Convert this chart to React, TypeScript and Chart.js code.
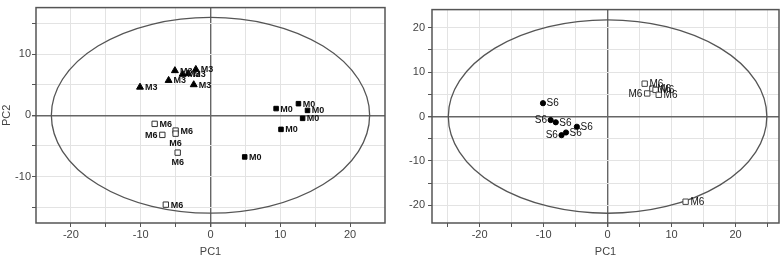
import React, { useEffect, useRef } from 'react';
import { Chart, registerables } from 'chart.js';
Chart.register(...registerables);

// ---------- Left panel data ----------
const leftM3X = [-10.1, -6.0, -5.1, -4.0, -3.2, -2.1, -2.4];
const leftM3Y = [4.6, 5.7, 7.3, 6.7, 6.8, 7.5, 5.0];
const leftM3Pos = ['r', 'r', 'r', 'r', 'r', 'r', 'r'];
const leftM0X = [9.4, 12.6, 13.9, 13.2, 10.1, 4.9];
const leftM0Y = [1.1, 1.9, 0.8, -0.5, -2.3, -6.8];
const leftM0Pos = ['r', 'r', 'r', 'r', 'r', 'r'];
const leftM6X = [-8.0, -6.9, -5.0, -5.0, -4.7, -6.4];
const leftM6Y = [-1.4, -3.2, -2.5, -3.0, -6.1, -14.6];
const leftM6Pos = ['r', 'l', 'r', 'b', 'b', 'r'];

// ---------- Right panel data ----------
const rightS6X = [-10.1, -8.9, -8.1, -4.8, -7.2, -6.5];
const rightS6Y = [3.0, -0.8, -1.3, -2.3, -4.2, -3.6];
const rightS6Pos = ['r', 'l', 'r', 'r', 'l', 'r'];
const rightM6X = [5.8, 6.2, 7.0, 7.5, 8.0, 12.2];
const rightM6Y = [7.4, 5.2, 6.3, 6.0, 4.9, -19.2];
const rightM6Pos = ['r', 'l', 'r', 'r', 'r', 'r'];

// axis ranges / ticks
const leftXRange = [-25, 25];
const leftYRange = [-17.6, 17.6];
const leftXTicks = [-20, -15, -10, -5, 0, 5, 10, 15, 20];
const leftYTicks = [-15, -10, -5, 0, 5, 10, 15];
const rightXRange = [-27.45, 26.8];
const rightYRange = [-24, 24.1];
const rightXTicks = [-25, -20, -15, -10, -5, 0, 5, 10, 15, 20, 25];
const rightYTicks = [-20, -15, -10, -5, 0, 5, 10, 15, 20];

// confidence ellipse semi-axes [a, b]
const leftEllipse = [22.8, 16.0];
const rightEllipse = [24.9, 21.8];

const FONT = '"Liberation Sans", Arial, sans-serif';

const toPts = (xs: number[], ys: number[]) => xs.map((x, i) => ({ x, y: ys[i] }));

const labelPlugin = {
  id: 'pointLabels',
  afterDatasetsDraw(chart: any) {
    const ctx = chart.ctx;
    const o = chart.options.plugins.pointLabels || {};
    chart.data.datasets.forEach((ds: any, di: number) => {
      const meta = chart.getDatasetMeta(di);
      ctx.save();
      ctx.font = o.font || `bold 9px ${FONT}`;
      ctx.fillStyle = '#111';
      meta.data.forEach((el: any, i: number) => {
        const pos = ds.labelPos[i];
        const r = ds.pointRadius + 1;
        if (pos === 'r') {
          ctx.textAlign = 'left';
          ctx.textBaseline = 'middle';
          ctx.fillText(ds.labelText, el.x + r, el.y + 0.5);
        } else if (pos === 'l') {
          ctx.textAlign = 'right';
          ctx.textBaseline = 'middle';
          ctx.fillText(ds.labelText, el.x - r, el.y + 0.5);
        } else {
          ctx.textAlign = 'center';
          ctx.textBaseline = 'top';
          ctx.fillText(ds.labelText, el.x, el.y + r + 1);
        }
      });
      ctx.restore();
    });
  },
};

const framePlugin = {
  id: 'frameEllipse',
  beforeDatasetsDraw(chart: any) {
    const { ctx, scales } = chart;
    const ell = chart.options.plugins.frameEllipse.ellipse;
    const cx = scales.x.getPixelForValue(0);
    const cy = scales.y.getPixelForValue(0);
    const rx = scales.x.getPixelForValue(ell[0]) - cx;
    const ry = cy - scales.y.getPixelForValue(ell[1]);
    ctx.save();
    ctx.beginPath();
    ctx.ellipse(cx, cy, rx, ry, 0, 0, Math.PI * 2);
    ctx.strokeStyle = '#555';
    ctx.lineWidth = 1.3;
    ctx.stroke();
    ctx.restore();
  },
  afterDraw(chart: any) {
    const { ctx, chartArea } = chart;
    ctx.save();
    ctx.strokeStyle = '#555';
    ctx.lineWidth = 1.5;
    ctx.strokeRect(chartArea.left, chartArea.top, chartArea.right - chartArea.left, chartArea.bottom - chartArea.top);
    ctx.restore();
  },
};

function axis(
  pos: 'bottom' | 'left',
  range: number[],
  ticks: number[],
  size: number,
  title: string | null,
  pad: number
) {
  return {
    type: 'linear',
    position: pos,
    min: range[0],
    max: range[1],
    afterBuildTicks: (s: any) => {
      s.ticks = ticks.map((v) => ({ value: v }));
    },
    afterFit: (s: any) => {
      if (pos === 'bottom') s.height = size;
      else s.width = size;
    },
    ticks: {
      autoSkip: false,
      maxRotation: 0,
      padding: pad,
      color: '#444',
      font: { family: FONT, size: 11 },
      callback: (v: number) => (Math.abs(v % 10) < 1e-9 ? String(v) : ''),
    },
    grid: {
      color: (c: any) => (c.tick && c.tick.value === 0 ? '#666' : '#e3e3e3'),
      lineWidth: (c: any) => (c.tick && c.tick.value === 0 ? 1.4 : 1),
      tickColor: '#555',
      tickLength: 4,
      drawTicks: true,
    },
    border: { display: false },
    title: {
      display: !!title,
      text: title || '',
      color: '#444',
      font: { family: FONT, size: 11 },
      padding: { top: 0, bottom: 0 },
    },
  };
}

function PcaChart(props: {
  datasets: any[];
  xRange: number[];
  yRange: number[];
  xTicks: number[];
  yTicks: number[];
  yWidth: number;
  yTitle: string | null;
  padRight: number;
  ellipse: number[];
  labelFont: string;
  yPad: number;
}) {
  const ref = useRef<HTMLCanvasElement | null>(null);
  useEffect(() => {
    if (!ref.current) return;
    const chart = new Chart(ref.current, {
      type: 'scatter',
      data: { datasets: props.datasets },
      options: {
        animation: false,
        responsive: false,
        devicePixelRatio: 1,
        layout: { padding: { left: 0, right: props.padRight, top: 1, bottom: 0 } },
        plugins: {
          legend: { display: false },
          tooltip: { enabled: false },
          pointLabels: { font: props.labelFont },
          frameEllipse: { ellipse: props.ellipse },
        } as any,
        scales: {
          x: axis('bottom', props.xRange, props.xTicks, 36, 'PC1', 1) as any,
          y: axis('left', props.yRange, props.yTicks, props.yWidth, props.yTitle, props.yPad) as any,
        },
      },
      plugins: [framePlugin, labelPlugin],
    });
    return () => chart.destroy();
  }, []);
  return <canvas ref={ref} width={392} height={259} style={{ width: 392, height: 259, display: 'block' }} />;
}

export default function App() {
  const leftDatasets = [
    {
      data: toPts(leftM3X, leftM3Y), labelText: 'M3', labelPos: leftM3Pos,
      pointStyle: 'triangle', pointRadius: 4, backgroundColor: '#000', borderColor: '#000', borderWidth: 1,
    },
    {
      data: toPts(leftM0X, leftM0Y), labelText: 'M0', labelPos: leftM0Pos,
      pointStyle: 'rect', pointRadius: 3.2, backgroundColor: '#000', borderColor: '#000', borderWidth: 1,
    },
    {
      data: toPts(leftM6X, leftM6Y), labelText: 'M6', labelPos: leftM6Pos,
      pointStyle: 'rect', pointRadius: 3.8, backgroundColor: '#fff', borderColor: '#333', borderWidth: 1,
    },
  ];
  const rightDatasets = [
    {
      data: toPts(rightS6X, rightS6Y), labelText: 'S6', labelPos: rightS6Pos,
      pointStyle: 'circle', pointRadius: 2.6, backgroundColor: '#000', borderColor: '#000', borderWidth: 1,
    },
    {
      data: toPts(rightM6X, rightM6Y), labelText: 'M6', labelPos: rightM6Pos,
      pointStyle: 'rect', pointRadius: 3.8, backgroundColor: '#fff', borderColor: '#444', borderWidth: 1,
    },
  ];
  return (
    <div style={{ position: 'absolute', left: 0, top: 0, width: 784, height: 259, background: '#fff', display: 'flex' }}>
      <PcaChart
        datasets={leftDatasets}
        xRange={leftXRange}
        yRange={leftYRange}
        xTicks={leftXTicks}
        yTicks={leftYTicks}
        yWidth={36}
        yTitle="PC2"
        padRight={7}
        ellipse={leftEllipse}
        labelFont={`bold 9px ${FONT}`}
        yPad={1}
      />
      <PcaChart
        datasets={rightDatasets}
        xRange={rightXRange}
        yRange={rightYRange}
        xTicks={rightXTicks}
        yTicks={rightYTicks}
        yWidth={40}
        yTitle={null}
        padRight={5}
        ellipse={rightEllipse}
        labelFont={`10px ${FONT}`}
        yPad={3}
      />
    </div>
  );
}
